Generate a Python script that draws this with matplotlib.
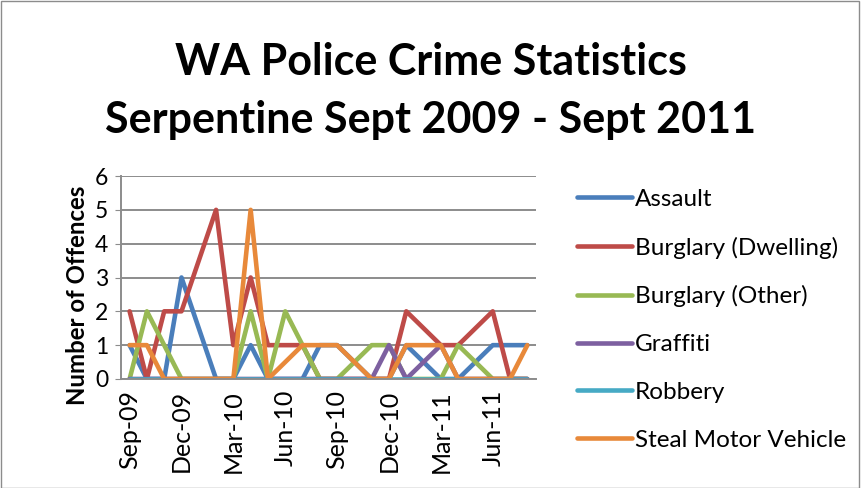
import numpy as np
import matplotlib as mpl
mpl.use('Agg')
import matplotlib.pyplot as plt
from matplotlib.patches import Rectangle

N = np.nan

months = ['Sep-09', 'Oct-09', 'Nov-09', 'Dec-09', 'Jan-10', 'Feb-10', 'Mar-10', 'Apr-10',
          'May-10', 'Jun-10', 'Jul-10', 'Aug-10', 'Sep-10', 'Oct-10', 'Nov-10', 'Dec-10',
          'Jan-11', 'Feb-11', 'Mar-11', 'Apr-11', 'May-11', 'Jun-11', 'Jul-11', 'Aug-11']

assault = [1, 0, 0, 3, N, 0, 0, 1, 0, 0, 0, 1, 1, N, 0, 0, 1, N, 0, 0, N, 1, 1, 1]
burglary_dwelling = [2, 0, 2, 2, N, 5, 1, 3, 1, 1, 1, 0, 0, N, 0, 0, 2, N, 1, 1, N, 2, 0, 0]
burglary_other = [0, 2, 1, 0, N, 0, 0, 2, 0, 2, 1, 0, 0, N, 1, 1, 0, N, 0, 1, N, 0, 0, 0]
graffiti = [0, 0, 0, 0, N, 0, 0, 0, 0, 0, 0, 0, 0, N, 0, 1, 0, N, 1, 0, N, 0, 0, 0]
robbery = [0, 0, 0, 0, N, 0, 0, 0, 0, 0, 0, 0, 0, N, 0, 0, 0, N, 0, 0, N, 0, 0, 0]
steal_motor_vehicle = [1, 1, 0, 0, N, 0, 0, 5, 0, N, 1, 1, 1, N, 0, 0, 1, N, 1, 0, N, 0, 0, 1]

series = [('Assault', assault, '#4A7EBB'),
          ('Burglary (Dwelling)', burglary_dwelling, '#BE4B48'),
          ('Burglary (Other)', burglary_other, '#98B954'),
          ('Graffiti', graffiti, '#7D60A0'),
          ('Robbery', robbery, '#46AAC5'),
          ('Steal Motor Vehicle', steal_motor_vehicle, '#E8893A')]

plt.rcParams['font.family'] = ['Lato', 'DejaVu Sans']

fig = plt.figure(figsize=(8.61, 4.88), dpi=100)
fig.patches.append(Rectangle((0.001, 0.001), 0.997, 0.997, transform=fig.transFigure,
                             fill=False, edgecolor='#8c8c8c', linewidth=1))
ax = fig.add_axes([0.1405, 0.2234, 0.482, 0.4159])

x = np.arange(len(months))
for name, vals, color in series:
    y = np.array(vals, dtype=float)
    ok = ~np.isnan(y)
    ax.plot(x[ok], y[ok], color=color, lw=3.3, label=name,
            solid_joinstyle='round', solid_capstyle='round')

ax.set_xlim(-0.5, len(months) - 0.5)
ax.set_ylim(0, 6)
ax.set_yticks(range(7))
ax.yaxis.grid(True, color='#8c8c8c', lw=1.4)
ax.set_axisbelow(True)
ax.set_xticks(x[::3])
ax.set_xticklabels(months[::3], rotation=90, fontsize=18)
ax.tick_params(axis='y', labelsize=16.5, length=4, color='#8c8c8c', pad=5)
ax.tick_params(axis='x', length=0, pad=8)
for s in ['top', 'right']:
    ax.spines[s].set_visible(False)
for s in ['left', 'bottom']:
    ax.spines[s].set_color('#8c8c8c')
    ax.spines[s].set_linewidth(1.4)
ax.set_ylabel('Number of Offences', fontsize=17.3, fontweight='bold')
ax.yaxis.set_label_coords(-0.076, 0.41)

fig.text(0.5, 1 - 91 / 488, 'WA Police Crime Statistics\nSerpentine Sept 2009 - Sept 2011',
         ha='center', va='center', fontsize=31, fontweight='bold', linespacing=1.55)

ax.legend(loc='upper left', bbox_to_anchor=(1.045, 1.045), frameon=False, fontsize=17.5,
          handlelength=2.3, handletextpad=0.1, labelspacing=1.1)

fig.savefig('out.png', dpi=100)
